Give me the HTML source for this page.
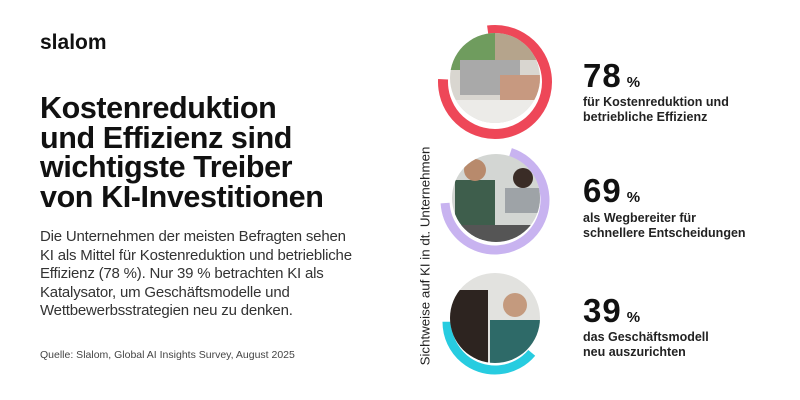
<!DOCTYPE html>
<html><head><meta charset="utf-8"><style>
html,body{margin:0;padding:0;background:#fff}
body{width:800px;height:400px;position:relative;overflow:hidden;font-family:"Liberation Sans",sans-serif}
.a{position:absolute;white-space:nowrap}
</style></head><body>
<div class="a" style="left:40px;top:31px;font-size:21px;font-weight:bold;letter-spacing:0px;color:#111">slalom</div>
<div class="a" style="left:40px;top:94px;font-size:30.5px;font-weight:bold;line-height:29.5px;letter-spacing:-0.4px;color:#111">Kostenreduktion<br>und Effizienz sind<br>wichtigste Treiber<br>von KI-Investitionen</div>
<div class="a" style="left:40px;top:228px;font-size:15px;line-height:18.6px;color:#333;letter-spacing:-0.2px">Die Unternehmen der meisten Befragten sehen<br>KI als Mittel für Kostenreduktion und betriebliche<br>Effizienz (78 %). Nur 39 % betrachten KI als<br>Katalysator, um Geschäftsmodelle und<br>Wettbewerbsstrategien neu zu denken.</div>
<div class="a" style="left:40px;top:349px;font-size:10.5px;color:#444">Quelle: Slalom, Global AI Insights Survey, August 2025</div>
<div class="a" style="left:425px;top:256px;font-size:13.3px;color:#222;transform:translate(-50%,-50%) rotate(-90deg);transform-origin:center">Sichtweise auf KI in dt. Unternehmen</div>
<svg class="a" style="left:0;top:0" width="800" height="400">
<defs>
<clipPath id="c1"><circle cx="495" cy="78" r="45"/></clipPath>
<clipPath id="c2"><circle cx="496" cy="198" r="44"/></clipPath>
<clipPath id="c3"><circle cx="495" cy="318" r="45"/></clipPath>
</defs>
<circle cx="495" cy="82" r="52" fill="none" stroke="#ee4758" stroke-width="10" stroke-dasharray="254.8 400" transform="rotate(-98 495 82)"/>
<circle cx="495" cy="200" r="50" fill="none" stroke="#c8b3f0" stroke-width="9" stroke-dasharray="216.5 400" transform="rotate(-72 495 200)"/>
<circle cx="495" cy="322" r="48" fill="none" stroke="#27cce0" stroke-width="9" stroke-dasharray="117.3 400" transform="rotate(40 495 322)"/>
<g clip-path="url(#c1)">
<rect x="440" y="30" width="110" height="100" fill="#d9d6d0"/>
<rect x="450" y="30" width="45" height="40" fill="#6f9c5e"/>
<rect x="495" y="30" width="50" height="30" fill="#b5a48c"/>
<rect x="460" y="60" width="60" height="35" fill="#a9a9a9"/>
<rect x="500" y="75" width="45" height="25" fill="#c79980"/>
<rect x="450" y="100" width="95" height="25" fill="#ecebe8"/>
</g>
<g clip-path="url(#c2)">
<rect x="450" y="150" width="95" height="95" fill="#d3d6d3"/>
<rect x="455" y="180" width="40" height="60" fill="#3e5e4c"/>
<circle cx="475" cy="170" r="11" fill="#b88a6c"/>
<circle cx="523" cy="178" r="10" fill="#3a2c26"/>
<rect x="505" y="188" width="35" height="25" fill="#9ea3a7"/>
<rect x="450" y="225" width="95" height="20" fill="#555"/>
</g>
<g clip-path="url(#c3)">
<rect x="448" y="272" width="95" height="95" fill="#e2e2df"/>
<rect x="448" y="290" width="40" height="75" fill="#2d2420"/>
<rect x="490" y="320" width="50" height="45" fill="#2e6a68"/>
<circle cx="515" cy="305" r="12" fill="#c49a7e"/>
</g>
<g font-family="Liberation Sans" font-weight="bold">
<text x="583" y="87" font-size="33" fill="#111" letter-spacing="1">78<tspan font-size="15" dx="5">%</tspan></text>
<text x="583" y="106" font-size="12.5" fill="#222">für Kostenreduktion und</text>
<text x="583" y="121" font-size="12.5" fill="#222">betriebliche Effizienz</text>
<text x="583" y="202" font-size="33" fill="#111" letter-spacing="1">69<tspan font-size="15" dx="5">%</tspan></text>
<text x="583" y="222" font-size="12.5" fill="#222">als Wegbereiter für</text>
<text x="583" y="237" font-size="12.5" fill="#222">schnellere Entscheidungen</text>
<text x="583" y="322" font-size="33" fill="#111" letter-spacing="1">39<tspan font-size="15" dx="5">%</tspan></text>
<text x="583" y="341" font-size="12.5" fill="#222">das Geschäftsmodell</text>
<text x="583" y="356" font-size="12.5" fill="#222">neu auszurichten</text>
</g>
</svg>
</body></html>
